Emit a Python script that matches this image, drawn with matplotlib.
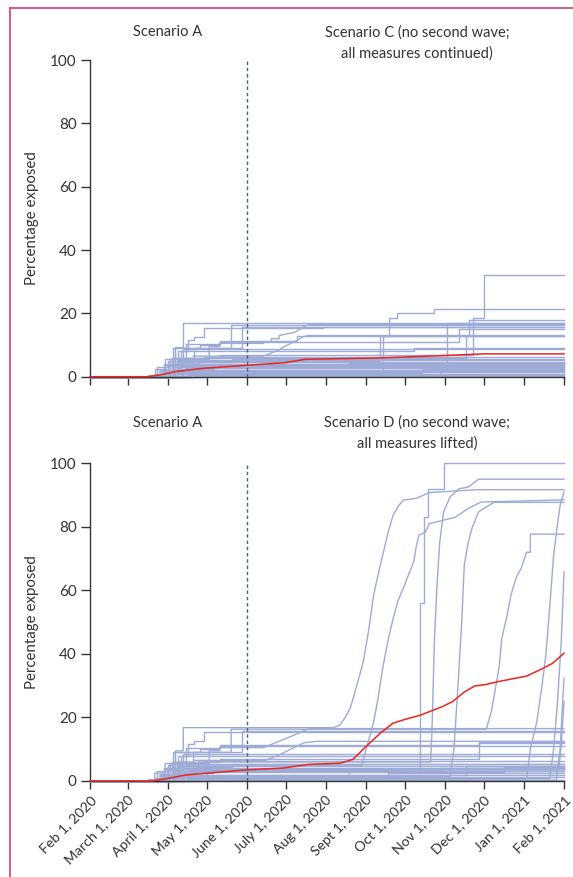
import numpy as np
import pandas as pd
import matplotlib
matplotlib.use("Agg")
import matplotlib.pyplot as plt
from matplotlib.lines import Line2D

plt.rcParams['font.family'] = ['Lato', 'DejaVu Sans']

# x positions are days since Feb 1, 2020
start = pd.Timestamp('2020-02-01')
tick_dates = ['2020-02-01', '2020-03-01', '2020-04-01', '2020-05-01', '2020-06-01',
              '2020-07-01', '2020-08-01', '2020-09-01', '2020-10-01', '2020-11-01',
              '2020-12-01', '2021-01-01', '2021-02-01']
tick_labels = ['Feb 1, 2020', 'March 1, 2020', 'April 1, 2020', 'May 1, 2020',
               'June 1, 2020', 'July 1, 2020', 'Aug 1, 2020', 'Sept 1, 2020',
               'Oct 1, 2020', 'Nov 1, 2020', 'Dec 1, 2020', 'Jan 1, 2021', 'Feb 1, 2021']
switch_date = '2020-06-01'
yticks = [0, 20, 40, 60, 80, 100]

# scenario A part (Feb-June), shared by both panels: (day, % exposed)
early_A = [
    [(0,0),(50,0),(50,2.5),(58,2.5),(58,5.5),(66,5.5),(66,9.5),(72,9.5),(72,16.8),(121,16.8)],
    [(0,0),(53,0),(53,1),(60,1),(60,3.5),(68,3.5),(68,8),(76,8),(76,11.5),(80,11.5),(80,12.6),(88,12.6),(88,15.3),(121,15.3)],
    [(0,0),(60,0),(60,4),(68,4),(68,6),(80,6),(80,9),(109,9),(109,16.3),(121,16.3)],
    [(0,0),(50,0),(50,1),(57,1),(57,4),(64,4),(64,9),(117,9),(117,15.8),(121,15.8)],
    [(0,0),(54,0),(54,2),(62,2),(62,5.5),(92,5.5),(92,9.5),(100,9.5),(100,10.5),(121,10.5)],
    [(0,0),(58,0),(58,1.5),(66,1.5),(66,4),(80,4),(80,6.5),(121,6.5)],
    [(0,0),(62,0),(62,2),(70,2),(70,5),(121,5)],
    [(0,0),(64,0),(64,3),(72,3),(72,8.6),(121,8.6)],
    [(0,0),(66,0),(66,2.5),(76,2.5),(76,6),(100,6),(100,7),(121,7)],
    [(0,0),(45,0),(45,0.5),(55,0.5),(55,2),(70,2),(70,3),(121,3)],
    [(0,0),(68,0),(68,4),(84,4),(84,6),(121,6)],
    [(0,0),(66,0),(66,9),(85,9),(85,10),(100,10),(100,11),(121,11)],
    [(0,0),(70,0),(70,1.5),(121,1.5)],
    [(0,0),(75,0),(75,0.5),(121,0.5)],
    [(0,0),(52,0),(52,3),(62,3),(62,4),(121,4)],
    [(0,0),(68,0),(68,2.5),(82,2.5),(82,4.5),(110,4.5),(110,5.5),(121,5.5)],
    [(0,0),(72,0),(72,0.8),(121,0.8)],
    [(0,0),(80,0),(80,0.3),(121,0.3)],
    [(0,0),(55,0),(55,1.5),(64,1.5),(64,3.5),(121,3.5)],
    [(0,0),(60,0),(60,5),(70,5),(70,8),(121,8)],
    [(0,0),(63,0),(63,6),(74,6),(74,10.3),(100,10.3),(100,11.2),(121,11.2)],
    [(0,0),(57,0),(57,1),(70,1),(70,2),(121,2)],
    [(0,0),(62,0),(62,1),(90,1),(90,2.7),(121,2.7)],
    [(0,0),(67,0),(67,1.4),(121,1.4)],
    [(0,0),(78,0),(78,3.4),(121,3.4)],
    [(0,0),(85,0),(85,0.5),(121,0.5)],
    [(0,0),(90,0),(90,0.2),(121,0.2)],
    [(0,0),(59,0),(59,2),(67,2),(67,5.3),(121,5.3)],
    [(0,0),(73,0),(73,2.8),(121,2.8)],
    [(0,0),(61,0),(61,1.8),(121,1.8)],
    [(0,0),(56,0),(56,2.2),(69,2.2),(69,4.6),(121,4.6)],
    [(0,0),(65,0),(65,1.2),(77,1.2),(77,3.9),(121,3.9)],
    [(0,0),(71,0),(71,2.4),(95,2.4),(95,3.2),(121,3.2)],
    [(0,0),(58,0),(58,3.7),(121,3.7)],
    [(0,0),(76,0),(76,1.1),(121,1.1)],
    [(0,0),(64,0),(64,5.8),(88,5.8),(88,6.2),(121,6.2)],
]

# scenario C continuation (June-Feb)
late_C = [
    [(240,16.8),(240,17.1),(366,17.1)],
    [(180,15.3),(180,15.8),(366,15.8)],
    [(366,16.3)],
    [(366,15.8)],
    [(134,10.5),(134,11),(140,11),(140,12),(146,12),(146,13),(152,13.5),(158,14),(162,15),(166,16),(170,16.5),(366,16.5)],
    [(134,6.5),(140,7.5),(146,8.5),(150,9.5),(155,10.5),(160,11.5),(164,12.5),(168,13),(366,13)],
    [(224,5),(224,13),(231,13),(231,18.5),(237,18.5),(237,20),(266,20),(266,21.3),(366,21.3)],
    [(366,8.6)],
    [(296,7),(296,18.5),(304,18.5),(304,32),(366,32)],
    [(276,3),(276,17),(366,17)],
    [(290,6),(290,12.7),(293,12.7),(293,17.8),(366,17.8)],
    [(285,11),(285,15),(366,15)],
    [(226,1.5),(226,12.9),(366,12.9)],
    [(366,0.5)],
    [(366,4)],
    [(366,5.5)],
    [(366,0.8)],
    [(366,0.3)],
    [(366,3.5)],
    [(250,8),(250,9.2),(366,9.2)],
    [(160,11.2),(160,12.7),(366,12.7)],
    [(366,2)],
    [(366,2.7)],
    [(366,1.4)],
    [(200,3.4),(200,4.2),(366,4.2)],
    [(190,0.5),(190,1),(366,1)],
    [(270,0.2),(270,2.2),(366,2.2)],
    [(366,5.3)],
    [(300,2.8),(300,3.4),(366,3.4)],
    [(366,1.8)],
    [(366,4.6)],
    [(210,3.9),(210,4.4),(366,4.4)],
    [(366,3.2)],
    [(366,3.7)],
    [(256,1.1),(256,2.5),(366,2.5)],
    [(366,6.2)],
]

# scenario D continuation (June-Feb)
late_D = [
    [(188,16.8),(193,17.6),(197,20),(201,23),(206,30),(211,37.5),(215,47),(219,58.5),(223,66),(226,71),(230,78),(234,83.6),(238,86.5),(242,88.4),(252,89),(262,90.8),(283,91.3),(300,91.7),(366,91.7)],
    [(366,15.3)],
    [(306,16.3),(310,22),(313,29),(316,36),(318,45),(322,52),(325,58.5),(329,64),(333,67),(337,72),(340,72),(340,77.7),(366,77.7)],
    [(366,15.8)],
    [(134,10.5),(140,11.5),(146,12.5),(152,13.5),(158,14.5),(166,16),(170,16.5),(366,16.5)],
    [(135,6.5),(145,8),(155,10),(165,12),(175,12.5),(366,12.5)],
    [(210,5),(213,9.7),(216,14),(219,18.6),(222,25),(226,35.5),(230,44),(234,51),(238,57),(242,60.7),(246,65),(250,69),(252,74),(254,77.4),(259,78.3),(262,81),(272,82),(282,83),(292,85.8),(302,87.8),(366,88.5)],
    [(366,8.6)],
    [(300,7),(300,12),(366,12)],
    [(255,3),(255,56),(258,56),(258,83),(261,83),(261,92),(273,92),(273,100),(366,100)],
    [(263,6),(264,15),(265,30),(266,45),(268,62),(270,75),(273,84.7),(278,89.4),(285,92),(292,92.5),(300,95),(366,95)],
    [(366,11)],
    [(278,1.5),(281,10),(284,29),(287,50),(289,68),(292,75),(295,79.6),(300,84.7),(305,86),(312,87.7),(366,87.7)],
    [(337,0.5),(340,10),(345,18.6),(349,30),(352,39.6),(355,55),(358,71),(361,81),(363,86.8),(366,91)],
    [(366,4)],
    [(366,5.5)],
    [(355,0.8),(358,10),(361,25),(364,45),(366,65.8)],
    [(360,0.3),(363,10),(366,32.4)],
    [(362,3.5),(364,12),(366,25)],
    [(366,8)],
    [(300,11.2),(300,12.3),(366,12.3)],
    [(366,2)],
    [(320,2.7),(320,4.5),(366,4.5)],
    [(366,1.4)],
    [(240,3.4),(240,3.8),(366,3.8)],
    [(230,0.5),(230,2.5),(366,2.5)],
    [(366,0.2)],
    [(366,5.3)],
    [(366,3)],
    [(290,1.8),(290,4.8),(366,4.8)],
    [(366,4.6)],
    [(366,3.9)],
    [(270,3.2),(270,4.2),(366,4.2)],
    [(366,3.7)],
    [(200,1.1),(200,3.1),(366,3.1)],
    [(366,6.2)],
]

# mean curves (red)
mean_C = [(0,0),(45,0),(55,0.6),(66,1.6),(86,2.6),(121,3.6),(150,4.4),(166,5.5),(221,5.9),(268,6.6),(304,7.2),(366,7.2)]
mean_D = [(0,0),(48,0),(60,0.8),(74,1.9),(121,3.5),(150,4.1),(168,5.2),(193,5.6),(203,6.8),(213,10.8),(224,15),(234,18.2),(244,19.5),(255,20.7),(272,23.4),(280,25),(289,28),(297,29.9),(306,30.4),(314,31.2),(337,33),(348,35.1),(357,37),(366,40.2)]

titles_C = ['Scenario C (no second wave;', 'all measures continued)']
titles_D = ['Scenario D (no second wave;', 'all measures lifted)']

W, H = 573, 877
BLUE = '#9dabd6'
RED = '#e8261f'
INK = '#333333'

tick_days = [(pd.Timestamp(d) - start).days for d in tick_dates]
switch_day = (pd.Timestamp(switch_date) - start).days

fig = plt.figure(figsize=(W/100, H/100), dpi=100)

def fx(px):
    return px / W

def fy(py):
    return 1 - py / H

def panel(rect, late, mean, titles, title_y, show_labels):
    ax = fig.add_axes(rect)
    for e, l in zip(early_A, late):
        pts = np.array(e + l)
        ax.plot(pts[:, 0], pts[:, 1], color=BLUE, lw=1.0, clip_on=False, zorder=2)
    m = np.array(mean)
    ax.plot(m[:, 0], m[:, 1], color=RED, lw=1.1, clip_on=False, zorder=4)
    ax.axvline(switch_day, ymin=0, ymax=1, color='#4d6470', lw=1.0,
               ls=(0, (2.5, 2)), zorder=5)
    ax.set_xlim(tick_days[0], tick_days[-1])
    ax.set_ylim(0, 100)
    ax.set_xticks(tick_days)
    if show_labels:
        ax.set_xticklabels(tick_labels, rotation=45, ha='right',
                           rotation_mode='anchor', fontsize=10.2, color=INK)
    else:
        ax.set_xticklabels([])
    ax.set_yticks(yticks)
    ax.tick_params(axis='y', labelsize=11, colors=INK, length=6.5, width=1, pad=3)
    ax.tick_params(axis='x', colors=INK, length=6, width=1, pad=3)
    for s in ['top', 'right']:
        ax.spines[s].set_visible(False)
    for s in ['left', 'bottom']:
        ax.spines[s].set_color(INK)
        ax.spines[s].set_linewidth(1.0)
    # headers
    fig.text(fx(168), fy(title_y), 'Scenario A', ha='center', va='baseline',
             fontsize=10.5, color=INK)
    fig.text(fx(417), fy(title_y), titles[0], ha='center', va='baseline',
             fontsize=10.5, color=INK)
    fig.text(fx(417), fy(title_y + 21), titles[1], ha='center', va='baseline',
             fontsize=10.5, color=INK)
    return ax

# axes rectangles from pixel positions: left 90, right 564
ax1 = panel([fx(90), fy(376.7), fx(564) - fx(90), (376.7 - 60) / H],
            late_C, mean_C, titles_C, 36.5, False)
ax2 = panel([fx(90), fy(781), fx(564) - fx(90), (781 - 463.3) / H],
            late_D, mean_D, titles_D, 427, True)

fig.text(fx(32), fy(218), 'Percentage exposed', rotation=90, ha='center',
         va='center', fontsize=10.8, color=INK)
fig.text(fx(32), fy(622), 'Percentage exposed', rotation=90, ha='center',
         va='center', fontsize=10.8, color=INK)

# journal frame (left and top rule)
PINK = '#d63a6c'
fig.add_artist(Line2D([fx(10), fx(10)], [fy(8), 0], color=PINK, lw=1.2,
                      transform=fig.transFigure))
fig.add_artist(Line2D([fx(10), 1], [fy(8), fy(8)], color=PINK, lw=1.2,
                      transform=fig.transFigure))

fig.savefig('out.png', dpi=100)
